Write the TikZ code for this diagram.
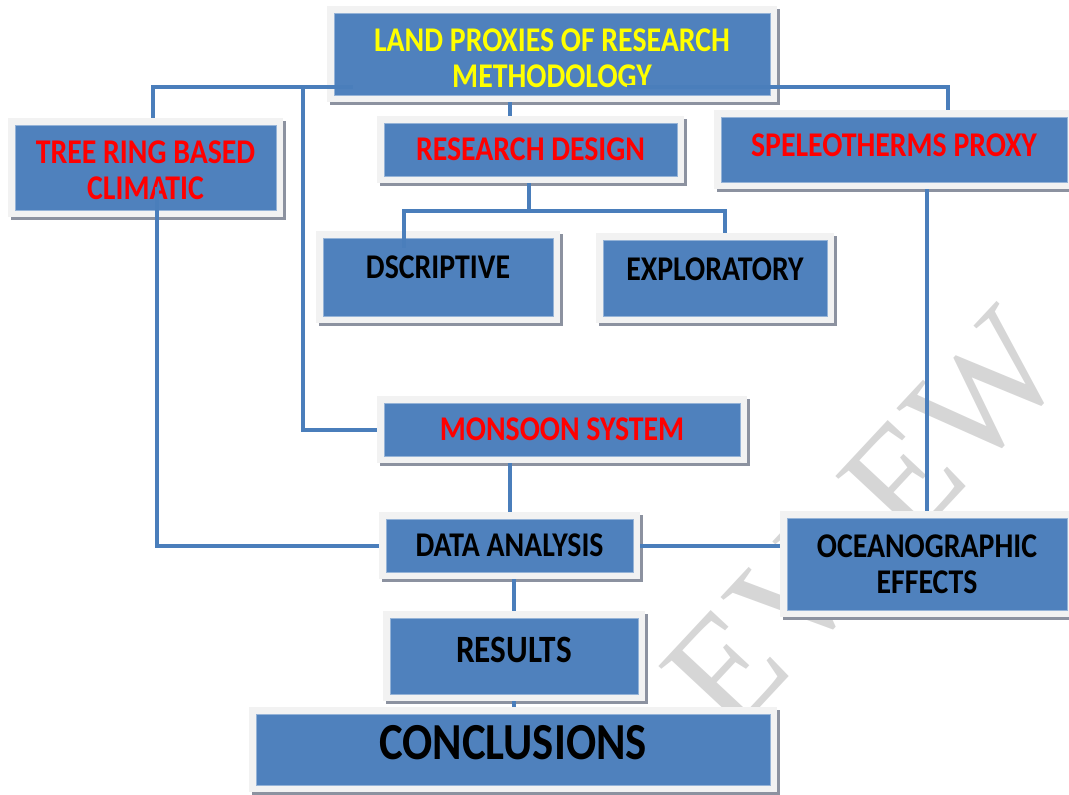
\documentclass[tikz,border=0pt]{standalone}
\usepackage{fontspec}
\setmainfont{Carlito}[FakeStretch=0.86]
\newfontfamily\markfont{Liberation Serif}
\usepackage{tikz}
\usetikzlibrary{positioning,calc,shadows}
\definecolor{boxblue}{RGB}{79,129,189}
\definecolor{boxedge}{RGB}{149,179,215}
\definecolor{framegray}{RGB}{242,242,242}
\definecolor{shadegray}{RGB}{140,146,160}
\definecolor{linkblue}{RGB}{74,126,187}
\definecolor{headyellow}{RGB}{255,255,0}
\definecolor{headred}{RGB}{255,0,0}
\tikzset{
  box/.style  ={rectangle, fill=framegray, inner sep=0pt, align=center,
                font=\bfseries\fontsize{26}{27}\selectfont, text=black,
                drop shadow={shadow xshift=2.25pt, shadow yshift=-2.25pt,
                             fill=shadegray, opacity=1},
                path picture={\draw[boxedge, fill=boxblue, line width=0.75pt]
                  ([shift={(7,7)}]path picture bounding box.south west) rectangle
                  ([shift={(-7,-7)}]path picture bounding box.north east);}},
  rbox/.style ={box, text=headred},
  ybox/.style ={box, text=headyellow},
  link/.style ={draw=linkblue, line width=3pt},
  wmark/.style={font=\markfont\fontsize{117}{117}\selectfont, text=black!16,
                rotate=47, inner sep=0pt}
}
\begin{document}
\begin{tikzpicture}[x=0.75pt, y=0.75pt]
\useasboundingbox (0,0) rectangle (1069,-794);
% faint watermark letters, mostly behind the boxes
\node[wmark] (wm1) at (725.8,-669.7) {E};
\node[wmark] (wm2) at (796.7,-593.7) {V};
\node[wmark] (wm4) at (903,-479.7) {E};
\node[wmark] (wm5) at (985.7,-391.1) {W};

\node[ybox, minimum width=337.5pt, minimum height=72pt] (title) at (552,-54)
  {\rule{0pt}{24pt}LAND PROXIES OF RESEARCH\\METHODOLOGY};
\node[rbox, minimum width=206.25pt, minimum height=74.25pt] (tree) at (145.5,-167.5)
  {\rule{0pt}{21pt}TREE RING BASED\\CLIMATIC};
\node[rbox, minimum width=230.25pt, minimum height=50.25pt] (design) at (530.5,-149.5)
  {RESEARCH DESIGN};
\node[rbox, minimum width=270pt, minimum height=59.25pt, text depth=6.75pt] (speleo) at (894,-149.5)
  {SPELEOTHERMS PROXY};
\node[box, minimum width=183pt, minimum height=69pt, text depth=15pt] (desc) at (438,-277)
  {DSCRIPTIVE};
\node[box, minimum width=178.5pt, minimum height=67.5pt, text depth=13.5pt] (expl) at (715,-278)
  {EXPLORATORY};
\node[rbox, minimum width=277.5pt, minimum height=50.25pt] (monsoon) at (562,-429.5)
  {MONSOON SYSTEM};
\node[box, minimum width=195.75pt, minimum height=50.25pt] (data) at (509.5,-545.5)
  {DATA ANALYSIS};
\node[box, minimum width=220.5pt, minimum height=79.5pt] (ocean) at (927,-564)
  {OCEANOGRAPHIC\\EFFECTS};
\node[box, minimum width=196.5pt, minimum height=67.5pt, text depth=9pt,
      font=\bfseries\fontsize{29}{30}\selectfont] (results) at (514,-656)
  {RESULTS};
\node[box, minimum width=396pt, minimum height=63.75pt, text depth=10pt,
      font=\bfseries\fontsize{39}{40}\selectfont] (concl) at (513,-749.5)
  {CONCLUSIONS};

% connectors
\coordinate (lj) at (303,-87);
\coordinate (dj) at (529,-211);
\draw[link] ($(title.west)+(26,-33)$) -| (tree.north -| 153,0);
\draw[link] (lj) |- (monsoon.west);
\draw[link] ($(title.east)+(-150,-33)$) -| (speleo.north -| 948,0);
\draw[link] (title.south -| 510,0) -- (design.north -| 510,0);
\draw[link] (design.south -| dj) -- (dj);
\draw[link] (dj) -| ($(desc.north -| 404,0)+(0,-17)$);
\draw[link] (dj) -| (expl.north -| 725,0);
\draw[link] (speleo.south -| ocean.north) -- (ocean.north);
\draw[link] (monsoon.south -| data.north) -- (data.north);
\draw[link] ($(tree.south)+(11.5,30)$) |- (data.west);
\draw[link] (data.east) -- (data.east -| ocean.west);
\draw[link] (data.south -| results.north) -- (results.north);
\draw[link] (results.south) -- (concl.north -| results.south);
\end{tikzpicture}
\end{document}
